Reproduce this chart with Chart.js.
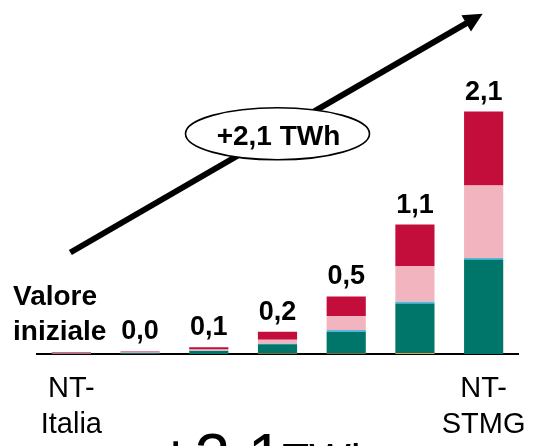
<!DOCTYPE html>
<html>
<head>
<meta charset="utf-8">
<script src="https://cdn.jsdelivr.net/npm/chart.js@4/dist/chart.umd.min.js"></script>
<style>
  html, body { margin: 0; padding: 0; background: #ffffff; }
  #wrap { width: 538px; height: 446px; position: relative; }
</style>
</head>
<body>
<div id="wrap"><canvas id="chart" width="538" height="446"></canvas></div>
<script>
// Categories along the axis (only first and last are named)
const categories = [["NT-", "Italia"], "", "", "", "", "", ["NT-", "STMG"]];

// Stacked components per step, TWh (bottom to top)
const orangeValues  = [0,     0,     0,     0.004, 0.004, 0.008, 0];
const tealValues    = [0.003, 0.008, 0.025, 0.08,  0.19,  0.43,  0.82];
const blueValues    = [0,     0,     0.003, 0.005, 0.015, 0.015, 0.012];
const pinkValues    = [0.007, 0.006, 0.01,  0.035, 0.12,  0.31,  0.63];
const crimsonValues = [0.007, 0.008, 0.02,  0.07,  0.17,  0.36,  0.64];

// Texts
const startLabel = ["Valore", "iniziale"];
const deltaLabel = "+2,1 TWh";
const footerBig = "+2,1";
const footerSmall = "TWh";

const FONT = "'Liberation Sans', Arial, Helvetica, sans-serif";

const colors = {
  orange: "#D9A441",
  teal: "#00766B",
  blue: "#4CB9E6",
  pink: "#F2B4BE",
  crimson: "#C30E3C"
};

function ds(label, data, color) {
  return {
    label: label,
    data: data,
    backgroundColor: color,
    borderWidth: 0,
    stack: "s",
    categoryPercentage: 1.0,
    barPercentage: 0.57
  };
}

function fmt(v) {
  return v.toFixed(1).replace(".", ",");
}

// Draws totals above bars, the trend arrow with its callout and the footer text
const overlayPlugin = {
  id: "overlay",
  afterDatasetsDraw(chart) {
    const ctx = chart.ctx;
    const x = chart.scales.x;
    const y = chart.scales.y;
    ctx.save();

    // totals above each bar
    ctx.fillStyle = "#000";
    ctx.textAlign = "center";
    ctx.textBaseline = "alphabetic";
    ctx.font = "bold 27px " + FONT;
    for (let i = 1; i < categories.length; i++) {
      const total = orangeValues[i] + tealValues[i] + blueValues[i] + pinkValues[i] + crimsonValues[i];
      const px = x.getPixelForValue(i);
      const py = y.getPixelForValue(total);
      ctx.fillText(fmt(total), px, py - 12);
    }

    // starting value label
    ctx.textAlign = "left";
    ctx.font = "bold 28px " + FONT;
    const base0 = y.getPixelForValue(0);
    ctx.fillText(startLabel[0], 13, base0 - 49);
    ctx.fillText(startLabel[1], 13, base0 - 14);

    // trend arrow
    const x0 = x.getPixelForValue(0) - 1, y0 = y.getPixelForValue(0.88);
    const x1 = x.getPixelForValue(6) - 1, y1 = y.getPixelForValue(2.95);
    const dx = x1 - x0, dy = y1 - y0;
    const len = Math.hypot(dx, dy);
    const ux = dx / len, uy = dy / len;
    const headLen = 19, headHalf = 9.5;
    const bx = x1 - ux * headLen, by = y1 - uy * headLen;
    ctx.strokeStyle = "#000";
    ctx.lineWidth = 6;
    ctx.lineCap = "butt";
    ctx.beginPath();
    ctx.moveTo(x0, y0);
    ctx.lineTo(bx + ux * 2, by + uy * 2);
    ctx.stroke();
    ctx.beginPath();
    ctx.moveTo(x1, y1);
    ctx.lineTo(bx - uy * headHalf, by + ux * headHalf);
    ctx.lineTo(bx + uy * headHalf, by - ux * headHalf);
    ctx.closePath();
    ctx.fillStyle = "#000";
    ctx.fill();

    // callout ellipse on the arrow
    const cx = x.getPixelForValue(3);
    const cy = y.getPixelForValue(1.91);
    ctx.beginPath();
    ctx.ellipse(cx, cy, 92, 26, 0, 0, Math.PI * 2);
    ctx.fillStyle = "#fff";
    ctx.fill();
    ctx.lineWidth = 1.6;
    ctx.strokeStyle = "#000";
    ctx.stroke();
    ctx.fillStyle = "#000";
    ctx.font = "bold 28px " + FONT;
    ctx.textAlign = "center";
    ctx.textBaseline = "alphabetic";
    ctx.fillText(deltaLabel, cx + 1, cy + 11);

    // footer text running off the bottom edge
    ctx.textAlign = "left";
    ctx.font = "64px " + FONT;
    ctx.fillText(footerBig, 157, 479);
    const w = ctx.measureText(footerBig).width;
    ctx.font = "44px " + FONT;
    ctx.fillText(footerSmall, 157 + w - 1, 475);

    ctx.restore();
  }
};

new Chart(document.getElementById("chart"), {
  type: "bar",
  data: {
    labels: categories,
    datasets: [
      ds("Altro", orangeValues, colors.orange),
      ds("Base", tealValues, colors.teal),
      ds("Intermedio", blueValues, colors.blue),
      ds("Medio", pinkValues, colors.pink),
      ds("Alto", crimsonValues, colors.crimson)
    ]
  },
  options: {
    responsive: false,
    animation: false,
    events: [],
    layout: { padding: { left: 37, right: 20, top: 0, bottom: 5 } },
    plugins: {
      legend: { display: false },
      tooltip: { enabled: false },
      title: { display: false }
    },
    scales: {
      x: {
        stacked: true,
        offset: true,
        grid: { display: false, drawTicks: false },
        border: { display: true, color: "#000", width: 2 },
        ticks: {
          color: "#000",
          padding: 17,
          autoSkip: false,
          maxRotation: 0,
          font: { family: FONT, size: 29, lineHeight: 1.24 }
        },
        afterFit(scale) {
          // fixed band for the two-line labels; no extra edge padding
          scale.height = 87;
          scale.paddingLeft = 0;
          scale.paddingRight = 0;
        }
      },
      y: {
        stacked: true,
        display: false,
        min: 0,
        max: 3.07
      }
    }
  },
  plugins: [overlayPlugin]
});
</script>
</body>
</html>
